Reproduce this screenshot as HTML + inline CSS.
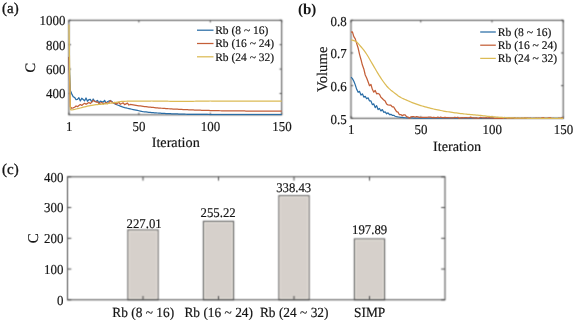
<!DOCTYPE html>
<html><head><meta charset="utf-8"><style>
html,body{margin:0;padding:0;background:#fff;}
svg{display:block;font-family:"Liberation Serif",serif;fill:#151515;will-change:transform;}
.t{stroke:#151515;stroke-width:0.18px;}
.t .hv{stroke-width:0.32px;}
.t .nb{stroke:none;}
</style></head><body>
<svg width="575" height="320" viewBox="0 0 575 320" text-rendering="geometricPrecision">
<defs>
<clipPath id="ca"><rect x="68.10000000000001" y="19.5" width="214.39999999999998" height="96.1"/></clipPath>
<clipPath id="cb"><rect x="350.2" y="19.5" width="213.80000000000004" height="99.6"/></clipPath>
<filter id="soft" filterUnits="userSpaceOnUse" x="0" y="0" width="575" height="320" color-interpolation-filters="sRGB"><feConvolveMatrix order="3" kernelMatrix="1 3 1 3 9 3 1 3 1" divisor="25" edgeMode="duplicate"/></filter>
</defs>
<g filter="url(#soft)">
<rect width="575" height="320" fill="#fff"/>
<line x1="68.90" y1="114.80" x2="68.90" y2="112.70" stroke="#454545" stroke-width="1.0"/>
<line x1="68.90" y1="20.30" x2="68.90" y2="22.40" stroke="#454545" stroke-width="1.0"/>
<line x1="138.88" y1="114.80" x2="138.88" y2="112.70" stroke="#454545" stroke-width="1.0"/>
<line x1="138.88" y1="20.30" x2="138.88" y2="22.40" stroke="#454545" stroke-width="1.0"/>
<line x1="210.29" y1="114.80" x2="210.29" y2="112.70" stroke="#454545" stroke-width="1.0"/>
<line x1="210.29" y1="20.30" x2="210.29" y2="22.40" stroke="#454545" stroke-width="1.0"/>
<line x1="281.70" y1="114.80" x2="281.70" y2="112.70" stroke="#454545" stroke-width="1.0"/>
<line x1="281.70" y1="20.30" x2="281.70" y2="22.40" stroke="#454545" stroke-width="1.0"/>
<line x1="68.90" y1="93.49" x2="71.00" y2="93.49" stroke="#454545" stroke-width="1.0"/>
<line x1="281.70" y1="93.49" x2="279.60" y2="93.49" stroke="#454545" stroke-width="1.0"/>
<line x1="68.90" y1="69.09" x2="71.00" y2="69.09" stroke="#454545" stroke-width="1.0"/>
<line x1="281.70" y1="69.09" x2="279.60" y2="69.09" stroke="#454545" stroke-width="1.0"/>
<line x1="68.90" y1="44.70" x2="71.00" y2="44.70" stroke="#454545" stroke-width="1.0"/>
<line x1="281.70" y1="44.70" x2="279.60" y2="44.70" stroke="#454545" stroke-width="1.0"/>
<line x1="68.90" y1="20.30" x2="71.00" y2="20.30" stroke="#454545" stroke-width="1.0"/>
<line x1="281.70" y1="20.30" x2="279.60" y2="20.30" stroke="#454545" stroke-width="1.0"/>
<rect x="68.9" y="20.3" width="212.80" height="94.50" fill="none" stroke="#454545" stroke-width="1.0"/>
<line x1="351.00" y1="118.30" x2="351.00" y2="116.20" stroke="#454545" stroke-width="1.0"/>
<line x1="351.00" y1="20.30" x2="351.00" y2="22.40" stroke="#454545" stroke-width="1.0"/>
<line x1="420.78" y1="118.30" x2="420.78" y2="116.20" stroke="#454545" stroke-width="1.0"/>
<line x1="420.78" y1="20.30" x2="420.78" y2="22.40" stroke="#454545" stroke-width="1.0"/>
<line x1="491.99" y1="118.30" x2="491.99" y2="116.20" stroke="#454545" stroke-width="1.0"/>
<line x1="491.99" y1="20.30" x2="491.99" y2="22.40" stroke="#454545" stroke-width="1.0"/>
<line x1="563.20" y1="118.30" x2="563.20" y2="116.20" stroke="#454545" stroke-width="1.0"/>
<line x1="563.20" y1="20.30" x2="563.20" y2="22.40" stroke="#454545" stroke-width="1.0"/>
<line x1="351.00" y1="118.30" x2="353.10" y2="118.30" stroke="#454545" stroke-width="1.0"/>
<line x1="563.20" y1="118.30" x2="561.10" y2="118.30" stroke="#454545" stroke-width="1.0"/>
<line x1="351.00" y1="85.63" x2="353.10" y2="85.63" stroke="#454545" stroke-width="1.0"/>
<line x1="563.20" y1="85.63" x2="561.10" y2="85.63" stroke="#454545" stroke-width="1.0"/>
<line x1="351.00" y1="52.97" x2="353.10" y2="52.97" stroke="#454545" stroke-width="1.0"/>
<line x1="563.20" y1="52.97" x2="561.10" y2="52.97" stroke="#454545" stroke-width="1.0"/>
<line x1="351.00" y1="20.30" x2="353.10" y2="20.30" stroke="#454545" stroke-width="1.0"/>
<line x1="563.20" y1="20.30" x2="561.10" y2="20.30" stroke="#454545" stroke-width="1.0"/>
<rect x="351.0" y="20.3" width="212.20" height="98.00" fill="none" stroke="#454545" stroke-width="1.0"/>
<rect x="127.90" y="229.99" width="30.20" height="69.81" fill="#d6d0cb" stroke="#5c5c5c" stroke-width="1.1"/>
<rect x="129.05" y="231.14" width="27.90" height="67.51" fill="none" stroke="#ece7e0" stroke-width="0.9"/>
<rect x="203.40" y="221.32" width="30.20" height="78.48" fill="#d6d0cb" stroke="#5c5c5c" stroke-width="1.1"/>
<rect x="204.55" y="222.47" width="27.90" height="76.18" fill="none" stroke="#ece7e0" stroke-width="0.9"/>
<rect x="278.90" y="195.73" width="30.20" height="104.07" fill="#d6d0cb" stroke="#5c5c5c" stroke-width="1.1"/>
<rect x="280.05" y="196.88" width="27.90" height="101.77" fill="none" stroke="#ece7e0" stroke-width="0.9"/>
<rect x="354.40" y="238.95" width="30.20" height="60.85" fill="#d6d0cb" stroke="#5c5c5c" stroke-width="1.1"/>
<rect x="355.55" y="240.10" width="27.90" height="58.55" fill="none" stroke="#ece7e0" stroke-width="0.9"/>
<line x1="143.00" y1="299.80" x2="143.00" y2="296.00" stroke="#454545" stroke-width="1.0"/>
<line x1="143.00" y1="176.80" x2="143.00" y2="180.60" stroke="#454545" stroke-width="1.0"/>
<line x1="218.50" y1="299.80" x2="218.50" y2="296.00" stroke="#454545" stroke-width="1.0"/>
<line x1="218.50" y1="176.80" x2="218.50" y2="180.60" stroke="#454545" stroke-width="1.0"/>
<line x1="294.00" y1="299.80" x2="294.00" y2="296.00" stroke="#454545" stroke-width="1.0"/>
<line x1="294.00" y1="176.80" x2="294.00" y2="180.60" stroke="#454545" stroke-width="1.0"/>
<line x1="369.50" y1="299.80" x2="369.50" y2="296.00" stroke="#454545" stroke-width="1.0"/>
<line x1="369.50" y1="176.80" x2="369.50" y2="180.60" stroke="#454545" stroke-width="1.0"/>
<line x1="67.50" y1="299.80" x2="71.30" y2="299.80" stroke="#454545" stroke-width="1.0"/>
<line x1="445.00" y1="299.80" x2="441.20" y2="299.80" stroke="#454545" stroke-width="1.0"/>
<line x1="67.50" y1="269.05" x2="71.30" y2="269.05" stroke="#454545" stroke-width="1.0"/>
<line x1="445.00" y1="269.05" x2="441.20" y2="269.05" stroke="#454545" stroke-width="1.0"/>
<line x1="67.50" y1="238.30" x2="71.30" y2="238.30" stroke="#454545" stroke-width="1.0"/>
<line x1="445.00" y1="238.30" x2="441.20" y2="238.30" stroke="#454545" stroke-width="1.0"/>
<line x1="67.50" y1="207.55" x2="71.30" y2="207.55" stroke="#454545" stroke-width="1.0"/>
<line x1="445.00" y1="207.55" x2="441.20" y2="207.55" stroke="#454545" stroke-width="1.0"/>
<line x1="67.50" y1="176.80" x2="71.30" y2="176.80" stroke="#454545" stroke-width="1.0"/>
<line x1="445.00" y1="176.80" x2="441.20" y2="176.80" stroke="#454545" stroke-width="1.0"/>
<rect x="67.5" y="176.8" width="377.50" height="123.00" fill="none" stroke="#454545" stroke-width="1.0"/>
</g>
<g>
<g clip-path="url(#ca)" fill="none" stroke-width="1.25" stroke-linejoin="round">
<path d="M68.90,56.89 L70.33,90.44 L71.76,93.86 L73.18,96.66 L74.61,97.45 L76.04,99.58 L77.47,99.43 L78.90,97.72 L80.33,100.93 L81.75,98.22 L83.18,99.46 L84.61,100.74 L86.04,98.02 L87.47,101.25 L88.89,99.59 L90.32,99.34 L91.75,101.93 L93.18,98.95 L94.61,101.37 L96.04,101.37 L97.46,100.39 L98.89,103.15 L100.32,101.17 L101.75,101.57 L103.18,102.16 L104.60,100.35 L106.03,103.12 L107.46,101.78 L108.89,100.97 L110.32,100.48 L111.75,101.42 L113.17,102.62 L114.60,103.73 L116.03,104.45 L117.46,104.98 L118.89,105.50 L120.31,106.09 L121.74,106.66 L123.17,107.13 L124.60,107.54 L126.03,107.91 L127.46,108.26 L128.88,108.59 L130.31,108.93 L131.74,109.25 L133.17,109.56 L134.60,109.85 L136.02,110.15 L137.45,110.45 L138.88,110.76 L140.31,111.07 L141.74,111.37 L143.17,111.62 L144.59,111.82 L146.02,111.99 L147.45,112.15 L148.88,112.29 L150.31,112.42 L151.73,112.54 L153.16,112.66 L154.59,112.78 L156.02,112.89 L157.45,113.00 L158.88,113.10 L160.30,113.20 L161.73,113.29 L163.16,113.38 L164.59,113.47 L166.02,113.54 L167.44,113.61 L168.87,113.67 L170.30,113.73 L171.73,113.78 L173.16,113.84 L174.59,113.89 L176.01,113.94 L177.44,113.99 L178.87,114.04 L180.30,114.08 L181.73,114.13 L183.16,114.17 L184.58,114.21 L186.01,114.25 L187.44,114.29 L188.87,114.32 L190.30,114.35 L191.72,114.38 L193.15,114.40 L194.58,114.42 L196.01,114.44 L197.44,114.46 L198.87,114.47 L200.29,114.47 L201.72,114.48 L203.15,114.48 L204.58,114.48 L206.01,114.49 L207.43,114.49 L208.86,114.50 L210.29,114.50 L211.72,114.51 L213.15,114.51 L214.58,114.51 L216.00,114.52 L217.43,114.52 L218.86,114.52 L220.29,114.53 L221.72,114.53 L223.14,114.53 L224.57,114.54 L226.00,114.54 L227.43,114.54 L228.86,114.54 L230.29,114.55 L231.71,114.55 L233.14,114.55 L234.57,114.55 L236.00,114.56 L237.43,114.56 L238.85,114.56 L240.28,114.56 L241.71,114.57 L243.14,114.57 L244.57,114.57 L246.00,114.57 L247.42,114.57 L248.85,114.57 L250.28,114.58 L251.71,114.58 L253.14,114.58 L254.56,114.58 L255.99,114.58 L257.42,114.58 L258.85,114.58 L260.28,114.58 L261.71,114.59 L263.13,114.59 L264.56,114.59 L265.99,114.59 L267.42,114.59 L268.85,114.59 L270.27,114.59 L271.70,114.59 L273.13,114.59 L274.56,114.59 L275.99,114.59 L277.42,114.59 L278.84,114.59 L280.27,114.59 L281.70,114.59" stroke="#2a6da6"/>
<path d="M68.90,56.89 L70.33,106.91 L71.76,108.25 L73.18,107.88 L74.61,107.29 L76.04,105.96 L77.47,106.68 L78.90,105.59 L80.33,104.53 L81.75,105.38 L83.18,104.33 L84.61,103.31 L86.04,104.26 L87.47,103.40 L88.89,102.56 L90.32,103.52 L91.75,102.15 L93.18,100.36 L94.61,101.43 L96.04,102.03 L97.46,101.83 L98.89,103.46 L100.32,103.03 L101.75,102.51 L103.18,103.85 L104.60,103.25 L106.03,102.55 L107.46,103.63 L108.89,102.65 L110.32,100.77 L111.75,101.89 L113.17,103.06 L114.60,102.40 L116.03,104.09 L117.46,103.25 L118.89,102.45 L120.31,104.26 L121.74,103.56 L123.17,102.82 L124.60,104.60 L126.03,103.85 L127.46,103.14 L128.88,105.04 L130.31,104.46 L131.74,104.71 L133.17,104.97 L134.60,105.20 L136.02,105.41 L137.45,105.60 L138.88,105.79 L140.31,105.97 L141.74,106.15 L143.17,106.34 L144.59,106.52 L146.02,106.70 L147.45,106.88 L148.88,107.04 L150.31,107.20 L151.73,107.35 L153.16,107.49 L154.59,107.63 L156.02,107.76 L157.45,107.89 L158.88,108.01 L160.30,108.13 L161.73,108.25 L163.16,108.36 L164.59,108.47 L166.02,108.57 L167.44,108.66 L168.87,108.75 L170.30,108.84 L171.73,108.93 L173.16,109.01 L174.59,109.09 L176.01,109.17 L177.44,109.24 L178.87,109.32 L180.30,109.39 L181.73,109.46 L183.16,109.53 L184.58,109.60 L186.01,109.66 L187.44,109.73 L188.87,109.79 L190.30,109.85 L191.72,109.90 L193.15,109.96 L194.58,110.01 L196.01,110.07 L197.44,110.12 L198.87,110.16 L200.29,110.21 L201.72,110.26 L203.15,110.30 L204.58,110.35 L206.01,110.39 L207.43,110.43 L208.86,110.48 L210.29,110.52 L211.72,110.56 L213.15,110.59 L214.58,110.63 L216.00,110.66 L217.43,110.70 L218.86,110.73 L220.29,110.75 L221.72,110.77 L223.14,110.79 L224.57,110.81 L226.00,110.83 L227.43,110.84 L228.86,110.85 L230.29,110.87 L231.71,110.88 L233.14,110.90 L234.57,110.91 L236.00,110.92 L237.43,110.94 L238.85,110.95 L240.28,110.96 L241.71,110.97 L243.14,110.98 L244.57,110.99 L246.00,111.01 L247.42,111.02 L248.85,111.03 L250.28,111.04 L251.71,111.05 L253.14,111.06 L254.56,111.06 L255.99,111.07 L257.42,111.08 L258.85,111.09 L260.28,111.10 L261.71,111.10 L263.13,111.11 L264.56,111.11 L265.99,111.12 L267.42,111.13 L268.85,111.13 L270.27,111.13 L271.70,111.14 L273.13,111.14 L274.56,111.14 L275.99,111.15 L277.42,111.15 L278.84,111.15 L280.27,111.15 L281.70,111.15" stroke="#c45f38"/>
<path d="M68.90,24.57 L70.33,109.59 L71.76,109.81 L73.18,109.63 L74.61,109.34 L76.04,109.01 L77.47,108.71 L78.90,108.37 L80.33,108.00 L81.75,107.61 L83.18,107.22 L84.61,106.86 L86.04,106.54 L87.47,106.22 L88.89,105.91 L90.32,105.61 L91.75,105.34 L93.18,105.10 L94.61,104.90 L96.04,104.74 L97.46,104.59 L98.89,104.46 L100.32,104.32 L101.75,104.18 L103.18,104.05 L104.60,103.91 L106.03,103.77 L107.46,103.61 L108.89,103.44 L110.32,103.24 L111.75,103.03 L113.17,102.81 L114.60,102.58 L116.03,102.35 L117.46,102.10 L118.89,101.87 L120.31,101.66 L121.74,101.48 L123.17,101.38 L124.60,101.31 L126.03,101.25 L127.46,101.20 L128.88,101.16 L130.31,101.13 L131.74,101.11 L133.17,101.10 L134.60,101.09 L136.02,101.08 L137.45,101.06 L138.88,101.05 L140.31,101.04 L141.74,101.04 L143.17,101.03 L144.59,101.02 L146.02,101.02 L147.45,101.01 L148.88,101.01 L150.31,101.01 L151.73,101.00 L153.16,101.00 L154.59,101.01 L156.02,101.02 L157.45,101.03 L158.88,101.06 L160.30,101.08 L161.73,101.11 L163.16,101.14 L164.59,101.16 L166.02,101.19 L167.44,101.22 L168.87,101.25 L170.30,101.27 L171.73,101.28 L173.16,101.29 L174.59,101.30 L176.01,101.30 L177.44,101.30 L178.87,101.30 L180.30,101.30 L181.73,101.30 L183.16,101.30 L184.58,101.30 L186.01,101.30 L187.44,101.30 L188.87,101.30 L190.30,101.29 L191.72,101.28 L193.15,101.27 L194.58,101.25 L196.01,101.22 L197.44,101.19 L198.87,101.17 L200.29,101.14 L201.72,101.11 L203.15,101.08 L204.58,101.06 L206.01,101.03 L207.43,101.02 L208.86,101.01 L210.29,101.00 L211.72,101.00 L213.15,101.00 L214.58,101.00 L216.00,101.00 L217.43,101.00 L218.86,101.00 L220.29,101.00 L221.72,101.00 L223.14,101.00 L224.57,101.00 L226.00,101.00 L227.43,101.00 L228.86,101.00 L230.29,101.00 L231.71,101.00 L233.14,101.00 L234.57,101.00 L236.00,101.00 L237.43,101.00 L238.85,101.00 L240.28,101.00 L241.71,101.00 L243.14,101.00 L244.57,101.00 L246.00,101.00 L247.42,101.00 L248.85,101.00 L250.28,101.00 L251.71,101.00 L253.14,101.00 L254.56,101.00 L255.99,101.00 L257.42,101.00 L258.85,101.00 L260.28,101.00 L261.71,101.00 L263.13,101.00 L264.56,101.00 L265.99,101.00 L267.42,101.00 L268.85,101.00 L270.27,101.00 L271.70,101.00 L273.13,101.00 L274.56,101.00 L275.99,101.00 L277.42,101.00 L278.84,101.00 L280.27,101.00 L281.70,101.00" stroke="#dcbb55"/>
</g>
<line x1="197" y1="30.20" x2="213.5" y2="30.20" stroke="#2a6da6" stroke-width="1.25"/>
<line x1="197" y1="43.50" x2="213.5" y2="43.50" stroke="#c45f38" stroke-width="1.25"/>
<line x1="197" y1="56.80" x2="213.5" y2="56.80" stroke="#dcbb55" stroke-width="1.25"/>
<g clip-path="url(#cb)" fill="none" stroke-width="1.25" stroke-linejoin="round">
<path d="M351.00,77.14 L352.42,78.61 L353.85,81.22 L355.27,84.89 L356.70,89.34 L358.12,92.27 L359.54,91.39 L360.97,95.09 L362.39,93.86 L363.82,97.11 L365.24,96.41 L366.67,98.74 L368.09,97.83 L369.51,100.89 L370.94,100.91 L372.36,104.65 L373.79,103.93 L375.21,107.61 L376.63,105.65 L378.06,109.58 L379.48,108.53 L380.91,110.95 L382.33,109.57 L383.76,112.32 L385.18,111.94 L386.60,113.74 L388.03,112.89 L389.45,114.52 L390.88,114.27 L392.30,115.36 L393.72,115.30 L395.15,116.23 L396.57,116.63 L398.00,116.94 L399.42,117.16 L400.85,117.34 L402.27,117.48 L403.69,117.62 L405.12,117.75 L406.54,117.85 L407.97,117.91 L409.39,117.94 L410.81,117.96 L412.24,117.99 L413.66,118.01 L415.09,118.03 L416.51,118.05 L417.94,118.06 L419.36,118.08 L420.78,118.09 L422.21,118.11 L423.63,118.12 L425.06,118.13 L426.48,118.14 L427.90,118.14 L429.33,118.15 L430.75,118.16 L432.18,118.16 L433.60,118.17 L435.03,118.17 L436.45,118.17 L437.87,118.18 L439.30,118.18 L440.72,118.18 L442.15,118.18 L443.57,118.19 L444.99,118.19 L446.42,118.19 L447.84,118.20 L449.27,118.20 L450.69,118.20 L452.12,118.20 L453.54,118.21 L454.96,118.21 L456.39,118.21 L457.81,118.21 L459.24,118.22 L460.66,118.22 L462.08,118.22 L463.51,118.22 L464.93,118.23 L466.36,118.23 L467.78,118.23 L469.21,118.23 L470.63,118.24 L472.05,118.24 L473.48,118.24 L474.90,118.24 L476.33,118.24 L477.75,118.25 L479.17,118.25 L480.60,118.25 L482.02,118.25 L483.45,118.25 L484.87,118.25 L486.30,118.26 L487.72,118.26 L489.14,118.26 L490.57,118.26 L491.99,118.26 L493.42,118.26 L494.84,118.27 L496.26,118.27 L497.69,118.27 L499.11,118.27 L500.54,118.27 L501.96,118.27 L503.39,118.27 L504.81,118.28 L506.23,118.28 L507.66,118.28 L509.08,118.28 L510.51,118.28 L511.93,118.28 L513.35,118.28 L514.78,118.28 L516.20,118.28 L517.63,118.29 L519.05,118.29 L520.48,118.29 L521.90,118.29 L523.32,118.29 L524.75,118.29 L526.17,118.29 L527.60,118.29 L529.02,118.29 L530.44,118.29 L531.87,118.29 L533.29,118.29 L534.72,118.29 L536.14,118.30 L537.57,118.30 L538.99,118.30 L540.41,118.30 L541.84,118.30 L543.26,118.30 L544.69,118.30 L546.11,118.30 L547.53,118.30 L548.96,118.30 L550.38,118.30 L551.81,118.30 L553.23,118.30 L554.66,118.30 L556.08,118.30 L557.50,118.30 L558.93,118.30 L560.35,118.30 L561.78,118.30 L563.20,118.30" stroke="#2a6da6"/>
<path d="M351.00,32.09 L352.42,31.83 L353.85,36.63 L355.27,38.86 L356.70,43.57 L358.12,47.99 L359.54,54.36 L360.97,59.47 L362.39,65.03 L363.82,68.93 L365.24,75.01 L366.67,78.04 L368.09,81.69 L369.51,85.68 L370.94,84.46 L372.36,89.33 L373.79,92.21 L375.21,90.42 L376.63,93.77 L378.06,93.42 L379.48,94.27 L380.91,97.22 L382.33,98.50 L383.76,100.06 L385.18,101.12 L386.60,104.02 L388.03,105.00 L389.45,105.18 L390.88,105.21 L392.30,106.80 L393.72,106.97 L395.15,109.32 L396.57,111.68 L398.00,112.14 L399.42,114.74 L400.85,114.61 L402.27,115.64 L403.69,114.89 L405.12,114.92 L406.54,116.61 L407.97,117.08 L409.39,118.20 L410.81,116.94 L412.24,116.66 L413.66,116.56 L415.09,117.31 L416.51,116.57 L417.94,116.87 L419.36,117.31 L420.78,117.47 L422.21,117.44 L423.63,117.33 L425.06,117.41 L426.48,117.29 L427.90,117.22 L429.33,117.07 L430.75,117.16 L432.18,117.54 L433.60,117.42 L435.03,117.66 L436.45,117.73 L437.87,117.02 L439.30,117.73 L440.72,117.02 L442.15,117.72 L443.57,117.56 L444.99,117.32 L446.42,117.65 L447.84,117.55 L449.27,117.75 L450.69,117.83 L452.12,117.75 L453.54,117.90 L454.96,117.25 L456.39,117.79 L457.81,117.24 L459.24,118.55 L460.66,117.77 L462.08,117.63 L463.51,117.90 L464.93,117.51 L466.36,117.66 L467.78,117.94 L469.21,117.75 L470.63,117.08 L472.05,117.85 L473.48,117.86 L474.90,118.10 L476.33,117.95 L477.75,118.39 L479.17,118.09 L480.60,117.33 L482.02,117.76 L483.45,117.91 L484.87,117.79 L486.30,117.58 L487.72,117.98 L489.14,117.57 L490.57,117.88 L491.99,118.16 L493.42,117.72 L494.84,118.93 L496.26,118.42 L497.69,118.19 L499.11,118.54 L500.54,118.33 L501.96,118.48 L503.39,118.49 L504.81,117.50 L506.23,118.12 L507.66,118.32 L509.08,117.91 L510.51,118.37 L511.93,118.04 L513.35,118.20 L514.78,117.82 L516.20,118.72 L517.63,118.07 L519.05,118.26 L520.48,118.64 L521.90,117.99 L523.32,118.56 L524.75,117.82 L526.17,118.15 L527.60,118.10 L529.02,118.28 L530.44,118.03 L531.87,118.85 L533.29,118.28 L534.72,118.48 L536.14,118.22 L537.57,118.31 L538.99,118.12 L540.41,118.55 L541.84,117.76 L543.26,117.62 L544.69,118.36 L546.11,118.30 L547.53,118.22 L548.96,117.93 L550.38,117.74 L551.81,118.65 L553.23,118.48 L554.66,118.61 L556.08,118.63 L557.50,118.78 L558.93,118.19 L560.35,118.64 L561.78,117.86 L563.20,118.03" stroke="#c45f38"/>
<path d="M351.00,40.00 L352.42,40.16 L353.85,40.58 L355.27,41.14 L356.70,42.02 L358.12,43.45 L359.54,45.13 L360.97,46.77 L362.39,48.44 L363.82,50.23 L365.24,52.15 L366.67,54.25 L368.09,56.54 L369.51,58.97 L370.94,61.45 L372.36,63.91 L373.79,66.31 L375.21,68.76 L376.63,71.23 L378.06,73.66 L379.48,75.97 L380.91,78.13 L382.33,80.23 L383.76,82.26 L385.18,84.19 L386.60,85.96 L388.03,87.52 L389.45,88.90 L390.88,90.14 L392.30,91.28 L393.72,92.38 L395.15,93.46 L396.57,94.57 L398.00,95.66 L399.42,96.65 L400.85,97.49 L402.27,98.23 L403.69,98.91 L405.12,99.55 L406.54,100.18 L407.97,100.80 L409.39,101.40 L410.81,101.99 L412.24,102.55 L413.66,103.09 L415.09,103.62 L416.51,104.12 L417.94,104.61 L419.36,105.09 L420.78,105.54 L422.21,105.98 L423.63,106.40 L425.06,106.81 L426.48,107.21 L427.90,107.59 L429.33,107.96 L430.75,108.32 L432.18,108.66 L433.60,109.00 L435.03,109.32 L436.45,109.63 L437.87,109.92 L439.30,110.21 L440.72,110.49 L442.15,110.76 L443.57,111.02 L444.99,111.27 L446.42,111.52 L447.84,111.75 L449.27,111.98 L450.69,112.19 L452.12,112.40 L453.54,112.61 L454.96,112.80 L456.39,112.99 L457.81,113.17 L459.24,113.35 L460.66,113.52 L462.08,113.69 L463.51,113.85 L464.93,114.00 L466.36,114.15 L467.78,114.29 L469.21,114.43 L470.63,114.56 L472.05,114.69 L473.48,114.80 L474.90,114.92 L476.33,115.04 L477.75,115.16 L479.17,115.31 L480.60,115.47 L482.02,115.63 L483.45,115.81 L484.87,115.98 L486.30,116.15 L487.72,116.32 L489.14,116.47 L490.57,116.60 L491.99,116.73 L493.42,116.85 L494.84,116.96 L496.26,117.08 L497.69,117.19 L499.11,117.29 L500.54,117.39 L501.96,117.48 L503.39,117.57 L504.81,117.64 L506.23,117.71 L507.66,117.77 L509.08,117.83 L510.51,117.89 L511.93,117.94 L513.35,117.99 L514.78,118.04 L516.20,118.08 L517.63,118.12 L519.05,118.15 L520.48,118.17 L521.90,118.19 L523.32,118.21 L524.75,118.23 L526.17,118.24 L527.60,118.26 L529.02,118.27 L530.44,118.28 L531.87,118.29 L533.29,118.30 L534.72,118.30 L536.14,118.30 L537.57,118.30 L538.99,118.30 L540.41,118.30 L541.84,118.30 L543.26,118.30 L544.69,118.30 L546.11,118.30 L547.53,118.30 L548.96,118.30 L550.38,118.30 L551.81,118.30 L553.23,118.30 L554.66,118.30 L556.08,118.30 L557.50,118.30 L558.93,118.30 L560.35,118.30 L561.78,118.30 L563.20,118.30" stroke="#dcbb55"/>
</g>
<line x1="480.2" y1="32.00" x2="495.8" y2="32.00" stroke="#2a6da6" stroke-width="1.25"/>
<line x1="480.2" y1="45.20" x2="495.8" y2="45.20" stroke="#c45f38" stroke-width="1.25"/>
<line x1="480.2" y1="58.40" x2="495.8" y2="58.40" stroke="#dcbb55" stroke-width="1.25"/>
</g>
<g class="t">
<text transform="translate(65.40,98.39) scale(0.95,1)" font-size="13.6" text-anchor="end">400</text>
<text transform="translate(65.40,73.99) scale(0.95,1)" font-size="13.6" text-anchor="end">600</text>
<text transform="translate(65.40,49.60) scale(0.95,1)" font-size="13.6" text-anchor="end">800</text>
<text transform="translate(65.40,25.20) scale(0.95,1)" font-size="13.6" text-anchor="end">1000</text>
<text transform="translate(69.10,130.50) scale(0.95,1)" font-size="13.6" text-anchor="middle">1</text>
<text transform="translate(139.08,130.50) scale(0.95,1)" font-size="13.6" text-anchor="middle">50</text>
<text transform="translate(210.49,130.50) scale(0.95,1)" font-size="13.6" text-anchor="middle">100</text>
<text transform="translate(281.90,130.50) scale(0.95,1)" font-size="13.6" text-anchor="middle">150</text>
<text transform="translate(175.70,146.90)" font-size="14.2" text-anchor="middle">Iteration</text>
<text transform="translate(35.00,67.55) rotate(-90)" font-size="14.5" text-anchor="middle">C</text>
<text class="hv" transform="translate(2.00,13.20)" font-size="15" text-anchor="start">(a)</text>
<text transform="translate(215.20,33.90)" font-size="11.5" text-anchor="start">Rb (8 ~ 16)</text>
<text transform="translate(215.20,47.20)" font-size="11.5" text-anchor="start">Rb (16 ~ 24)</text>
<text transform="translate(215.20,60.50)" font-size="11.5" text-anchor="start">Rb (24 ~ 32)</text>
<text transform="translate(346.60,123.70) scale(0.95,1)" font-size="13.6" text-anchor="end">0.5</text>
<text transform="translate(346.60,91.03) scale(0.95,1)" font-size="13.6" text-anchor="end">0.6</text>
<text transform="translate(346.60,58.37) scale(0.95,1)" font-size="13.6" text-anchor="end">0.7</text>
<text transform="translate(346.60,25.70) scale(0.95,1)" font-size="13.6" text-anchor="end">0.8</text>
<text transform="translate(351.20,134.20) scale(0.95,1)" font-size="13.6" text-anchor="middle">1</text>
<text transform="translate(420.98,134.20) scale(0.95,1)" font-size="13.6" text-anchor="middle">50</text>
<text transform="translate(492.19,134.20) scale(0.95,1)" font-size="13.6" text-anchor="middle">100</text>
<text transform="translate(563.40,134.20) scale(0.95,1)" font-size="13.6" text-anchor="middle">150</text>
<text transform="translate(457.10,151.40)" font-size="14.2" text-anchor="middle">Iteration</text>
<text transform="translate(326.60,69.30) rotate(-90)" font-size="14.7" text-anchor="middle">Volume</text>
<text class="nb" transform="translate(298.00,14.20)" font-size="15" text-anchor="start" font-weight="bold">(b)</text>
<text transform="translate(497.80,35.90)" font-size="11.6" text-anchor="start">Rb (8 ~ 16)</text>
<text transform="translate(497.80,49.10)" font-size="11.6" text-anchor="start">Rb (16 ~ 24)</text>
<text transform="translate(497.80,62.30)" font-size="11.6" text-anchor="start">Rb (24 ~ 32)</text>
<text transform="translate(144.10,228.00) scale(0.96,1)" font-size="13.3" text-anchor="middle">227.01</text>
<text transform="translate(143.20,316.60) scale(0.955,1)" font-size="14" text-anchor="middle">Rb (8 ~ 16)</text>
<text transform="translate(218.10,216.70) scale(0.96,1)" font-size="13.3" text-anchor="middle">255.22</text>
<text transform="translate(218.70,316.60) scale(0.955,1)" font-size="14" text-anchor="middle">Rb (16 ~ 24)</text>
<text transform="translate(293.70,191.50) scale(0.96,1)" font-size="13.3" text-anchor="middle">338.43</text>
<text transform="translate(294.20,316.60) scale(0.955,1)" font-size="14" text-anchor="middle">Rb (24 ~ 32)</text>
<text transform="translate(369.60,234.20) scale(0.96,1)" font-size="13.3" text-anchor="middle">197.89</text>
<text transform="translate(369.70,316.60) scale(0.955,1)" font-size="14" text-anchor="middle">SIMP</text>
<text transform="translate(63.40,304.70) scale(0.95,1)" font-size="13.6" text-anchor="end">0</text>
<text transform="translate(63.40,273.95) scale(0.95,1)" font-size="13.6" text-anchor="end">100</text>
<text transform="translate(63.40,243.20) scale(0.95,1)" font-size="13.6" text-anchor="end">200</text>
<text transform="translate(63.40,212.45) scale(0.95,1)" font-size="13.6" text-anchor="end">300</text>
<text transform="translate(63.40,181.70) scale(0.95,1)" font-size="13.6" text-anchor="end">400</text>
<text transform="translate(38.00,238.30) rotate(-90)" font-size="15" text-anchor="middle">C</text>
<text class="hv" transform="translate(2.00,174.00)" font-size="15" text-anchor="start">(c)</text>
</g>
</svg>
</body></html>
